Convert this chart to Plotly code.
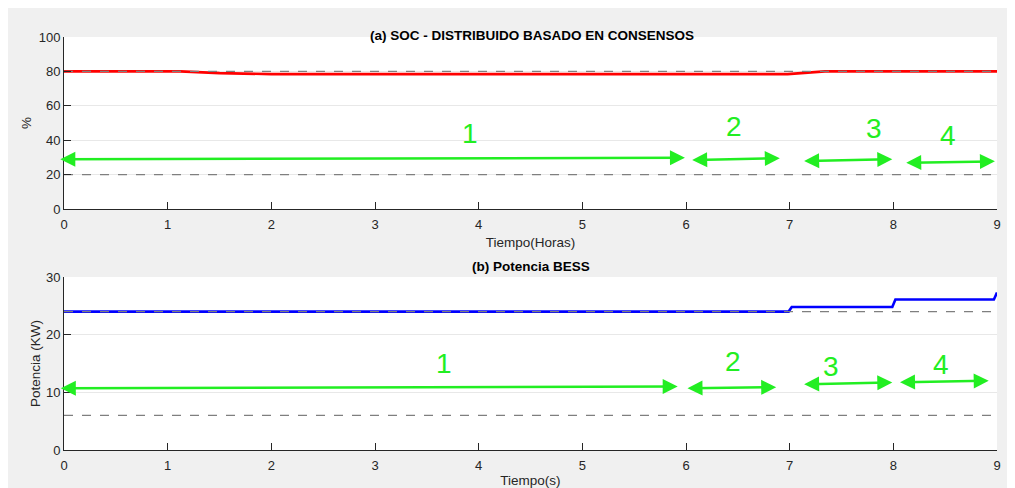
import plotly.graph_objs as go

# --- data ---
soc_t = [0, 1.12, 1.5, 2.0, 6.98, 7.15, 7.34, 9]
soc_v = [80, 80, 79.0, 78.4, 78.4, 79.3, 80, 80]
soc_limits = [80, 20]

bess_t = [0, 6.99, 7.02, 7.99, 8.02, 8.97, 9.0]
bess_v = [24, 24, 24.8, 24.8, 26.1, 26.1, 27.3]
bess_limits = [24, 6]

# double arrows marking the intervals: (x start, y start, x end, y end)
soc_arrow_x0 = [-0.05, 6.045, 7.125, 8.11]
soc_arrow_y0 = [28.9, 28.5, 27.9, 26.9]
soc_arrow_x1 = [5.99, 6.905, 7.99, 8.98]
soc_arrow_y1 = [29.8, 29.5, 28.9, 27.7]
soc_label_x = [3.92, 6.46, 7.81, 8.53]
soc_label_y = [44, 47.7, 47, 43]

bess_arrow_x0 = [-0.045, 6.0, 7.125, 8.05]
bess_arrow_y0 = [10.7, 10.7, 11.4, 11.75]
bess_arrow_x1 = [5.92, 6.87, 7.99, 8.92]
bess_arrow_y1 = [11.0, 10.9, 11.7, 12.0]
bess_label_x = [3.67, 6.45, 7.4, 8.46]
bess_label_y = [15.05, 15.3, 14.4, 14.8]

labels = ["1", "2", "3", "4"]

# page has an 8px body margin, so the figure starts at (8, 8)
OFF = 8
W, H = 1015 - OFF, 488 - OFF
GREEN = "#22ee22"
FONT = "Liberation Sans, Arial, sans-serif"
AX = "#262626"


def px_x(p):
    return (p - OFF) / W


def px_y(p):
    return 1 - (p - OFF) / H


fig = go.Figure()

fig.add_trace(go.Scatter(x=soc_t, y=soc_v, mode="lines", line=dict(color="#ff0000", width=2.6),
                         xaxis="x", yaxis="y", showlegend=False))
for v in soc_limits:
    fig.add_trace(go.Scatter(x=[0, 9], y=[v, v], mode="lines",
                             line=dict(color="#7f7f7f", width=1.3, dash="dash"),
                             xaxis="x", yaxis="y", showlegend=False))

fig.add_trace(go.Scatter(x=bess_t, y=bess_v, mode="lines", line=dict(color="#0000ff", width=2.6),
                         xaxis="x2", yaxis="y2", showlegend=False))
for v in bess_limits:
    fig.add_trace(go.Scatter(x=[0, 9], y=[v, v], mode="lines",
                             line=dict(color="#7f7f7f", width=1.3, dash="dash"),
                             xaxis="x2", yaxis="y2", showlegend=False))

annotations = []


def add_arrows(xr, yr, x0s, y0s, x1s, y1s, lx, ly):
    for i in range(len(x0s)):
        annotations.append(dict(x=x1s[i], y=y1s[i], ax=x0s[i], ay=y0s[i], xref=xr, yref=yr,
                                axref=xr, ayref=yr, text="", showarrow=True,
                                arrowside="end+start", arrowhead=2, arrowsize=1.2,
                                arrowwidth=2.5, arrowcolor=GREEN, standoff=0, startstandoff=0))
        annotations.append(dict(x=lx[i], y=ly[i], xref=xr, yref=yr, text=labels[i],
                                showarrow=False, font=dict(family=FONT, size=28, color=GREEN)))


add_arrows("x", "y", soc_arrow_x0, soc_arrow_y0, soc_arrow_x1, soc_arrow_y1, soc_label_x, soc_label_y)
add_arrows("x2", "y2", bess_arrow_x0, bess_arrow_y0, bess_arrow_x1, bess_arrow_y1, bess_label_x, bess_label_y)

annotations.append(dict(x=px_x(532), y=px_y(26), xref="paper", yref="paper", showarrow=False,
                        text="<b>(a) SOC - DISTRIBUIDO BASADO EN CONSENSOS</b>",
                        font=dict(family=FONT, size=13.5, color="#000")))
annotations.append(dict(x=px_x(531), y=px_y(266), xref="paper", yref="paper", showarrow=False,
                        text="<b>(b) Potencia BESS</b>",
                        font=dict(family=FONT, size=13.5, color="#000")))

xcommon = dict(range=[0, 9], tickvals=list(range(10)), ticks="inside", ticklen=7,
               tickcolor=AX, showline=True, linecolor=AX, linewidth=1, showgrid=False,
               zeroline=False, tickfont=dict(family=FONT, size=13, color=AX), automargin=False,
               ticklabelstandoff=3)
ycommon = dict(ticks="inside", ticklen=7, tickcolor=AX, showline=True, linecolor=AX,
               linewidth=1, showgrid=True, gridcolor="#e8e8e8", zeroline=False,
               tickfont=dict(family=FONT, size=13, color=AX), automargin=False)

fig.update_layout(
    width=W, height=H, autosize=False,
    margin=dict(l=0, r=0, t=0, b=0, pad=0, autoexpand=False),
    paper_bgcolor="#f0f0f0", plot_bgcolor="#ffffff",
    xaxis=dict(xcommon, domain=[px_x(64), px_x(997)], anchor="y",
               title=dict(text="Tiempo(Horas)", font=dict(family=FONT, size=13.5, color=AX), standoff=6)),
    yaxis=dict(ycommon, domain=[px_y(209), px_y(37)], anchor="x", range=[0, 100],
               tickvals=[0, 20, 40, 60, 80, 100],
               title=dict(text="%", font=dict(family=FONT, size=13.5, color=AX), standoff=3)),
    xaxis2=dict(xcommon, domain=[px_x(64), px_x(997)], anchor="y2",
                title=dict(text="Tiempo(s)", font=dict(family=FONT, size=13.5, color=AX), standoff=4)),
    yaxis2=dict(ycommon, domain=[px_y(450), px_y(277)], anchor="x2", range=[0, 30],
                tickvals=[0, 10, 20, 30],
                title=dict(text="Potencia (KW)", font=dict(family=FONT, size=13.5, color=AX), standoff=2)),
    annotations=annotations,
)

fig.write_html("out.html")
